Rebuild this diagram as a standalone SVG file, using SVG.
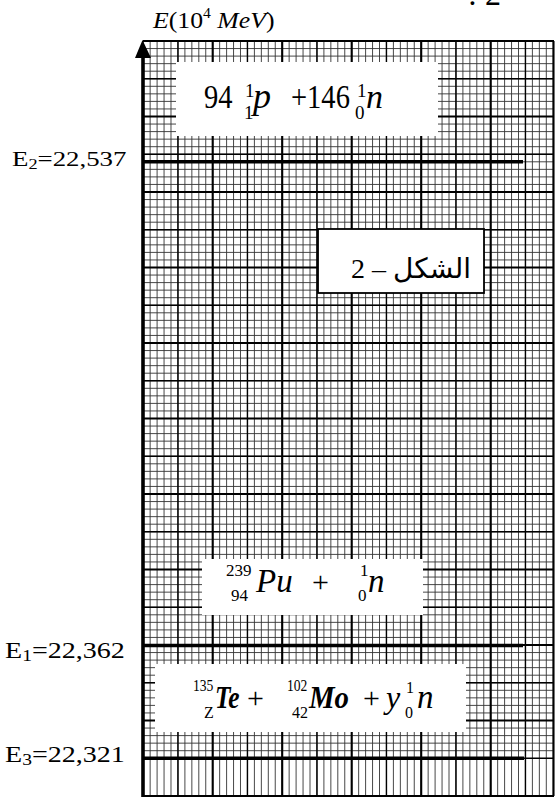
<svg xmlns="http://www.w3.org/2000/svg" width="555" height="799" viewBox="0 0 555 799">
<style>
.t{font-family:"Liberation Serif","Times New Roman",serif;fill:#000}
.i{font-style:italic}
.minor{stroke:#333;stroke-width:0.9;fill:none}
.med{stroke:#000;stroke-width:1.4;fill:none}
.maj{stroke:#000;stroke-width:2.1;fill:none}
.lvl{stroke:#000;stroke-width:3.4}
</style>
<rect width="555" height="799" fill="#fff"/>
<g id="grid">
<path class="minor" d="M143.2 41v755m6.95-755v755m6.95-755v755m6.95-755v755m6.95-755v755m6.95-755v755m6.95-755v755m6.95-755v755m6.95-755v755m6.95-755v755m6.95-755v755m6.95-755v755m6.95-755v755m6.95-755v755m6.95-755v755m6.95-755v755m6.95-755v755m6.95-755v755m6.95-755v755m6.95-755v755m6.95-755v755m6.95-755v755m6.95-755v755m6.95-755v755m6.95-755v755m6.95-755v755m6.95-755v755m6.95-755v755m6.95-755v755m6.95-755v755m6.95-755v755m6.95-755v755m6.95-755v755m6.95-755v755m6.95-755v755m6.95-755v755m6.95-755v755m6.95-755v755m6.95-755v755m6.95-755v755m6.95-755v755m6.95-755v755m6.95-755v755m6.95-755v755m6.95-755v755m6.95-755v755m6.95-755v755m6.95-755v755m6.95-755v755m6.95-755v755m6.95-755v755m6.95-755v755m6.95-755v755m6.95-755v755m6.95-755v755m6.95-755v755m6.95-755v755m6.95-755v755m6.95-755v755m6.95-755v755"/>
<path class="minor" d="M143 41h411m-411 7.55h411m-411 7.55h411m-411 7.55h411m-411 7.55h411m-411 7.55h411m-411 7.55h411m-411 7.55h411m-411 7.55h411m-411 7.55h411m-411 7.55h411m-411 7.55h411m-411 7.55h411m-411 7.55h411m-411 7.55h411m-411 7.55h411m-411 7.55h411m-411 7.55h411m-411 7.55h411m-411 7.55h411m-411 7.55h411m-411 7.55h411m-411 7.55h411m-411 7.55h411m-411 7.55h411m-411 7.55h411m-411 7.55h411m-411 7.55h411m-411 7.55h411m-411 7.55h411m-411 7.55h411m-411 7.55h411m-411 7.55h411m-411 7.55h411m-411 7.55h411m-411 7.55h411m-411 7.55h411m-411 7.55h411m-411 7.55h411m-411 7.55h411m-411 7.55h411m-411 7.55h411m-411 7.55h411m-411 7.55h411m-411 7.55h411m-411 7.55h411m-411 7.55h411m-411 7.55h411m-411 7.55h411m-411 7.55h411m-411 7.55h411m-411 7.55h411m-411 7.55h411m-411 7.55h411m-411 7.55h411m-411 7.55h411m-411 7.55h411m-411 7.55h411m-411 7.55h411m-411 7.55h411m-411 7.55h411m-411 7.55h411m-411 7.55h411m-411 7.55h411m-411 7.55h411m-411 7.55h411m-411 7.55h411m-411 7.55h411m-411 7.55h411m-411 7.55h411m-411 7.55h411m-411 7.55h411m-411 7.55h411m-411 7.55h411m-411 7.55h411m-411 7.55h411m-411 7.55h411m-411 7.55h411m-411 7.55h411m-411 7.55h411m-411 7.55h411m-411 7.55h411m-411 7.55h411m-411 7.55h411m-411 7.55h411m-411 7.55h411m-411 7.55h411m-411 7.55h411m-411 7.55h411m-411 7.55h411m-411 7.55h411m-411 7.55h411m-411 7.55h411m-411 7.55h411m-411 7.55h411"/>
<path class="med" d="M177.95 41v755M247.45 41v755M316.95 41v755M386.45 41v755M455.95 41v755M525.45 41v755M143 78.75h411M143 154.25h411M143 229.75h411M143 305.25h411M143 380.75h411M143 456.25h411M143 531.75h411M143 607.25h411M143 682.75h411M143 758.25h411"/>
<path class="maj" d="M212.7 41v755M282.2 41v755M351.7 41v755M421.2 41v755M490.7 41v755M143 41h411M143 116.5h411M143 192h411M143 267.5h411M143 343h411M143 418.5h411M143 494h411M143 569.5h411M143 645h411M143 720.5h411M143 796h411M553.5 41v755"/>
</g>
<g id="boxes">
<rect x="176" y="62" width="262" height="74" fill="#fff"/>
<rect x="202" y="559" width="221" height="56" fill="#fff"/>
<rect x="155" y="664" width="311" height="68" fill="#fff"/>
</g>
<g id="levels">
<line class="lvl" x1="143" y1="161.8" x2="523" y2="161.8"/>
<line class="lvl" x1="143" y1="645.5" x2="523" y2="645.5"/>
<line class="lvl" x1="143" y1="758.2" x2="524" y2="758.2"/>
</g>
<g id="axis">
<line x1="143" y1="797" x2="143" y2="52" stroke="#000" stroke-width="3.6"/>
<polygon points="142.5,40 135,58 151,58" fill="#000"/>
<text class="t" font-size="23" transform="translate(153,28) scale(1.12,1)"><tspan class="i">E</tspan>(10<tspan font-size="14" dy="-10">4</tspan><tspan class="i" dy="10"> MeV</tspan>)</text>
</g>
<g id="label-e2">
<text class="t" font-size="22" transform="translate(12,166) scale(1.22,1)">E<tspan font-size="15" dy="3">2</tspan><tspan dy="-3">=22,537</tspan></text>
</g>
<g id="label-e1">
<text class="t" font-size="23" transform="translate(5,658) scale(1.22,1)">E<tspan font-size="16" dy="3">1</tspan><tspan dy="-3">=22,362</tspan></text>
</g>
<g id="label-e3">
<text class="t" font-size="23" transform="translate(5,762) scale(1.22,1)">E<tspan font-size="16" dy="3">3</tspan><tspan dy="-3">=22,321</tspan></text>
</g>
<g id="node-top">
<text class="t" font-size="34" transform="translate(204,108) scale(0.84,1)">94</text>
<text class="t" x="245" y="97" font-size="19">1</text>
<text class="t" x="244" y="119" font-size="19">1</text>
<text class="t i" x="253" y="108" font-size="36">p</text>
<text class="t" font-size="34" transform="translate(291,108) scale(0.84,1)">+146</text>
<text class="t" x="357" y="97" font-size="19">1</text>
<text class="t" x="355" y="119" font-size="19">0</text>
<text class="t i" x="366" y="108" font-size="34">n</text>
</g>
<g id="node-pu">
<text class="t" x="226" y="576" font-size="17">239</text>
<text class="t" x="231" y="601" font-size="17">94</text>
<text class="t i" x="256" y="592" font-size="33">Pu</text>
<text class="t" x="312" y="592" font-size="30">+</text>
<text class="t" x="360" y="576" font-size="17">1</text>
<text class="t" x="358" y="601" font-size="17">0</text>
<text class="t i" x="368" y="592" font-size="33">n</text>
</g>
<g id="node-te">
<text class="t" font-size="16" transform="translate(193,691) scale(0.85,1)">135</text>
<text class="t" x="204" y="718" font-size="16">Z</text>
<text class="t i" font-size="31" font-weight="bold" transform="translate(215,708) scale(0.82,1)">Te</text>
<text class="t" x="247" y="708" font-size="30">+</text>
<text class="t" font-size="16" transform="translate(287,691) scale(0.85,1)">102</text>
<text class="t" x="292" y="718" font-size="16">42</text>
<text class="t i" font-size="31" font-weight="bold" transform="translate(309,708) scale(0.93,1)">Mo</text>
<text class="t" x="363" y="708" font-size="30">+</text>
<text class="t i" x="386" y="708" font-size="32">y</text>
<text class="t" x="406" y="693" font-size="16">1</text>
<text class="t" x="405" y="718" font-size="16">0</text>
<text class="t i" x="417" y="708" font-size="33">n</text>
</g>
<g id="node-caption">
<rect x="318" y="229" width="166" height="64" fill="#fff" stroke="#000" stroke-width="1.8"/>
<text class="t" x="411" y="278" font-size="28" text-anchor="middle" direction="rtl" style="font-family:'Liberation Serif','DejaVu Sans',serif">الشكل – 2</text>
</g>
<g id="header">
<text class="t" x="468" y="5" font-size="32">: 2</text>
</g>
</svg>
